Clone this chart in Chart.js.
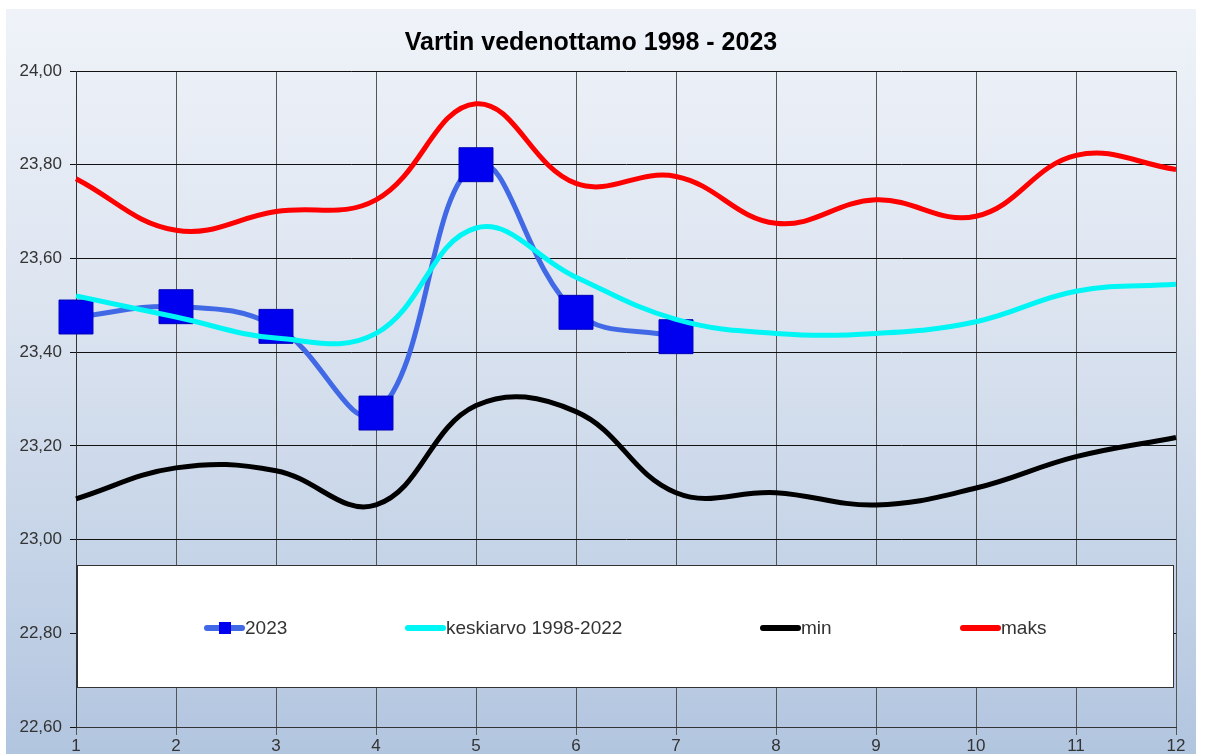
<!DOCTYPE html>
<html>
<head>
<meta charset="utf-8">
<script src="https://cdn.jsdelivr.net/npm/chart.js@4.4.1/dist/chart.umd.min.js"></script>
<style>
  html, body { margin: 0; padding: 0; background: #fff; }
</style>
</head>
<body>
<canvas id="myChart" width="1209" height="754"></canvas>
<script>
/* data */
const months = ['1', '2', '3', '4', '5', '6', '7', '8', '9', '10', '11', '12'];
const values2023 = [23.475, 23.497, 23.455, 23.27, 23.80, 23.485, 23.433, null, null, null, null, null];
const valuesAvg = [23.52, 23.475, 23.43, 23.44, 23.665, 23.56, 23.47, 23.44, 23.44, 23.465, 23.53, 23.545];
const valuesMin = [23.087, 23.153, 23.147, 23.074, 23.286, 23.273, 23.10, 23.10, 23.074, 23.11, 23.177, 23.218];
const valuesMax = [23.77, 23.66, 23.70, 23.725, 23.93, 23.76, 23.775, 23.675, 23.725, 23.69, 23.82, 23.79];
const yTicks = [22.6, 22.8, 23.0, 23.2, 23.4, 23.6, 23.8, 24.0];

const FONT = 'Arial, "Liberation Sans", sans-serif';

/* background panel with gradient */
const bgPlugin = {
  id: 'bg',
  beforeDraw(chart) {
    const c = chart.ctx;
    c.save();
    c.fillStyle = '#fff';
    c.fillRect(0, 0, chart.width, chart.height);
    const g = c.createLinearGradient(0, 9, 0, chart.height);
    g.addColorStop(0, '#eff3f9');
    g.addColorStop(0.4, '#dce4f0');
    g.addColorStop(0.75, '#c4d3e7');
    g.addColorStop(1, '#b2c5df');
    c.fillStyle = g;
    c.fillRect(6, 9, 1190, chart.height - 9);
    c.restore();
  }
};

/* legend drawn inside the plot area in a white box */
const legendBox = {
  id: 'legendBox',
  beforeDatasetsDraw(chart) {
    const c = chart.ctx;
    const area = chart.chartArea;
    const x0 = area.left + 1, x1 = area.right - 3;
    const y0 = 565, y1 = 687;
    c.save();
    c.fillStyle = '#fff';
    c.fillRect(x0, y0, x1 - x0, y1 - y0);
    c.strokeStyle = '#333';
    c.lineWidth = 1;
    c.strokeRect(x0 + 0.5, y0 + 0.5, x1 - x0, y1 - y0);

    const starts = [207, 408, 763, 963];
    const ly = 628;
    c.font = '19px ' + FONT;
    c.textBaseline = 'middle';
    chart.data.datasets.forEach((ds, i) => {
      const sx = starts[i];
      c.strokeStyle = ds.borderColor;
      c.lineWidth = 6;
      c.lineCap = 'round';
      c.beginPath();
      c.moveTo(sx, ly);
      c.lineTo(sx + 35, ly);
      c.stroke();
      if (ds.pointRadius > 0) {
        c.fillStyle = ds.backgroundColor;
        c.fillRect(sx + 12, ly - 6, 12, 12);
      }
      c.fillStyle = '#333';
      c.fillText(ds.label, sx + 38, ly + 1);
    });
    c.restore();
  }
};

const ctx = document.getElementById('myChart').getContext('2d');
const myChart = new Chart(ctx, {
  type: 'line',
  data: {
    labels: months,
    datasets: [
      {
        label: '2023',
        data: values2023,
        borderColor: '#4169e6',
        backgroundColor: '#0000f0',
        borderWidth: 5,
        pointStyle: 'rect',
        pointRadius: 24,
        pointBorderColor: '#0000b8',
        pointBorderWidth: 1,
        tension: 0.4,
        clip: false,
        order: 1
      },
      {
        label: 'keskiarvo 1998-2022',
        data: valuesAvg,
        borderColor: '#00f5f5',
        borderWidth: 5,
        pointRadius: 0,
        tension: 0.4
      },
      {
        label: 'min',
        data: valuesMin,
        borderColor: '#000',
        borderWidth: 5,
        pointRadius: 0,
        tension: 0.4
      },
      {
        label: 'maks',
        data: valuesMax,
        borderColor: '#ff0000',
        borderWidth: 5,
        pointRadius: 0,
        tension: 0.4
      }
    ]
  },
  options: {
    responsive: false,
    animation: false,
    layout: { padding: { left: 6, right: 33, top: 0, bottom: 0 } },
    plugins: {
      legend: { display: false },
      tooltip: { enabled: false },
      title: {
        display: true,
        text: 'Vartin vedenottamo 1998 - 2023',
        color: '#000',
        font: { family: FONT, size: 25, weight: 'bold' },
        padding: { top: 28, bottom: 13 }
      }
    },
    scales: {
      x: {
        offset: false,
        grid: { color: '#555', lineWidth: 1, tickLength: 8, drawTicks: true },
        border: { color: '#333' },
        ticks: { color: '#333', font: { family: FONT, size: 17 }, padding: 1, maxRotation: 0, autoSkip: false },
        afterFit(scale) { scale.height = 27; }
      },
      y: {
        min: 22.6,
        max: 24.0,
        grid: { color: '#111', lineWidth: 1, tickLength: 6 },
        border: { color: '#333' },
        ticks: {
          color: '#333',
          font: { family: FONT, size: 17 },
          padding: 8,
          callback: v => Number(v).toFixed(2).replace('.', ',')
        },
        afterBuildTicks(scale) { scale.ticks = yTicks.map(v => ({ value: v })); },
        afterFit(scale) { scale.width = 70; }
      }
    }
  },
  plugins: [bgPlugin, legendBox]
});
</script>
</body>
</html>
